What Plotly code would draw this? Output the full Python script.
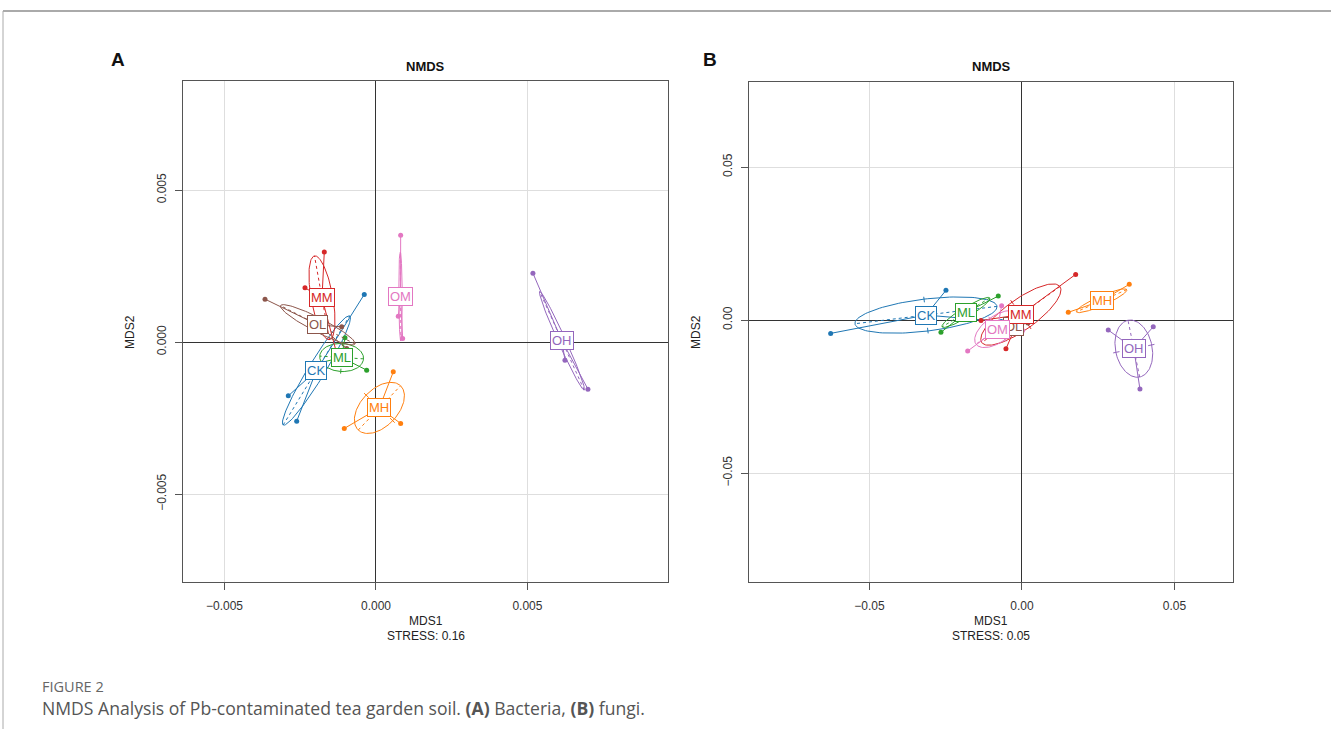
import numpy as np
import plotly.graph_objects as go

W, H = 1331, 729

group_order = ["CK", "MH", "ML", "MM", "OH", "OL", "OM"]
group_colors = ["#1f77b4", "#ff7f0e", "#2ca02c", "#d62728", "#9467bd", "#8c564b", "#e377c2"]

# Panel A: bacteria NMDS scores (3 samples per group)
bact_group = ["CK", "CK", "CK", "MH", "MH", "MH", "ML", "ML", "ML", "MM", "MM", "MM",
              "OH", "OH", "OH", "OL", "OL", "OL", "OM", "OM", "OM"]
bact_mds1 = [-0.000386, -0.002894, -0.002617,
             0.000571, -0.001046, 0.000815,
             -0.001023, -0.000307, -0.002069,
             -0.001706, -0.002343, -0.001297,
             0.005181, 0.006238, 0.006997,
             -0.003663, -0.001132, -0.000967,
             0.000815, 0.000736, 0.000881]
bact_mds2 = [0.001569, -0.001766, -0.002599,
             -0.000977, -0.002839, -0.002674,
             0.000141, -0.000921, -0.000734,
             0.002961, 0.001786, -0.000372,
             0.002270, -0.000592, -0.001546,
             0.001414, 0.000503, -0.000207,
             0.003520, 0.000855, 0.000122]
bact_stress = 0.16

# Panel B: fungi NMDS scores
fungi_group = bact_group
fungi_mds1 = [-0.06272, -0.02492, -0.00679,
              0.03518, 0.01518, 0.02800,
              -0.00777, -0.02656, -0.02075,
              0.01761, -0.00525, -0.01344,
              0.02830, 0.04305, 0.03869,
              0.00197, -0.00623, -0.00393,
              -0.01780, -0.00666, 0.00020]
fungi_mds2 = [-0.00435, 0.00971, -0.00046,
              0.01167, 0.00252, 0.00477,
              0.00784, -0.00402, 0.00369,
              0.01493, -0.00938, -0.00016,
              -0.00327, -0.00219, -0.02255,
              -0.00098, -0.00359, -0.00131,
              -0.01013, 0.00467, -0.00337]
fungi_stress = 0.05

bact_ticks = [-0.005, 0.0, 0.005]
bact_ticktext = ["\u22120.005", "0.000", "0.005"]
fungi_ticks = [-0.05, 0.0, 0.05]
fungi_ticktext = ["\u22120.05", "0.00", "0.05"]

label_order = ["CK", "MH", "ML", "OL", "MM", "OH", "OM"]

fig = go.Figure()


def px_x(p):
    return p / W


def px_y(p):
    return 1 - p / H


def ellipse_parts(x, y):
    X = np.column_stack([x, y])
    c = X.mean(axis=0)
    cov = np.cov(X.T, bias=True)
    vals, vecs = np.linalg.eigh(cov)
    vals = np.clip(vals, 0, None)
    r = np.sqrt(vals)
    t = np.linspace(0, 2 * np.pi, 121)
    pts = c[:, None] + vecs @ (r[:, None] * np.vstack([np.cos(t), np.sin(t)]))
    major = vecs[:, 1] * r[1]
    minor = vecs[:, 0] * r[0]
    return c, pts, major, minor


def add_panel(groups, mx, my, xa, ya):
    groups = np.array(groups)
    mx = np.array(mx)
    my = np.array(my)
    cents = {}
    for g, col in zip(group_order, group_colors):
        m = groups == g
        x, y = mx[m], my[m]
        c, pts, major, minor = ellipse_parts(x, y)
        cents[g] = c
        sx, sy = [], []
        for xi, yi in zip(x, y):
            sx += [c[0], xi, None]
            sy += [c[1], yi, None]
        fig.add_trace(go.Scatter(x=sx, y=sy, mode="lines", line=dict(color=col, width=1),
                                 xaxis=xa, yaxis=ya, hoverinfo="skip", showlegend=False))
        fig.add_trace(go.Scatter(x=pts[0], y=pts[1], mode="lines", line=dict(color=col, width=1),
                                 xaxis=xa, yaxis=ya, hoverinfo="skip", showlegend=False))
        fig.add_trace(go.Scatter(x=[c[0] - major[0], c[0] + major[0]],
                                 y=[c[1] - major[1], c[1] + major[1]],
                                 mode="lines", line=dict(color=col, width=1, dash="3px,3px"),
                                 xaxis=xa, yaxis=ya, hoverinfo="skip", showlegend=False))
        tx, ty = [], []
        for s in (-1, 1):
            tx += [c[0] + s * 0.8 * minor[0], c[0] + s * 1.15 * minor[0], None]
            ty += [c[1] + s * 0.8 * minor[1], c[1] + s * 1.15 * minor[1], None]
        fig.add_trace(go.Scatter(x=tx, y=ty, mode="lines", line=dict(color=col, width=1),
                                 xaxis=xa, yaxis=ya, hoverinfo="skip", showlegend=False))
        fig.add_trace(go.Scatter(x=x, y=y, mode="markers", marker=dict(color=col, size=5),
                                 xaxis=xa, yaxis=ya, hoverinfo="skip", showlegend=False))
    for g in label_order:
        col = group_colors[group_order.index(g)]
        c = cents[g]
        fig.add_annotation(x=c[0], y=c[1], xref=xa, yref=ya, text=g, showarrow=False,
                           xanchor="center", yanchor="middle",
                           font=dict(family="Liberation Sans, Arial", size=13, color=col),
                           bgcolor="white", bordercolor=col, borderwidth=1, borderpad=1)


add_panel(bact_group, bact_mds1, bact_mds2, "x", "y")
add_panel(fungi_group, fungi_mds1, fungi_mds2, "x2", "y2")

axis_common = dict(showline=True, mirror=True, linecolor="#555555", linewidth=1,
                   showgrid=True, gridcolor="#dedede", gridwidth=1,
                   zeroline=True, zerolinecolor="#333333", zerolinewidth=1,
                   ticks="outside", ticklen=7, tickcolor="#555555", tickwidth=1,
                   tickfont=dict(family="Liberation Sans, Arial", size=12, color="#333333"),
                   showticklabels=True)

fig.update_layout(
    width=W, height=H, margin=dict(l=0, r=0, t=0, b=0),
    paper_bgcolor="white", plot_bgcolor="white", showlegend=False,
    xaxis=dict(domain=[px_x(183), px_x(668)], range=[-0.00637, 0.00964], anchor="y",
               tickvals=bact_ticks, ticktext=bact_ticktext, ticklabelstandoff=6, **axis_common),
    yaxis=dict(domain=[px_y(582), px_y(81)], range=[-0.00789, 0.00859], anchor="x",
               tickvals=bact_ticks, ticktext=bact_ticktext, tickangle=-90, ticklabelstandoff=4,
               **axis_common),
    xaxis2=dict(domain=[px_x(749), px_x(1233)], range=[-0.0895, 0.0692], anchor="y2",
                tickvals=fungi_ticks, ticktext=fungi_ticktext, ticklabelstandoff=6, **axis_common),
    yaxis2=dict(domain=[px_y(582), px_y(82)], range=[-0.0856, 0.0778], anchor="x2",
                tickvals=fungi_ticks, ticktext=fungi_ticktext, tickangle=-90, ticklabelstandoff=4,
                **axis_common),
)

txt_font = dict(family="Liberation Sans, Arial", size=12, color="#222222")


def paper_text(xp, yp, text, font, xanchor="center", angle=0):
    fig.add_annotation(x=px_x(xp), y=px_y(yp), xref="paper", yref="paper", text=text,
                       showarrow=False, xanchor=xanchor, yanchor="middle", textangle=angle,
                       font=font)


for cx, stress in ((425.5, bact_stress), (991, fungi_stress)):
    paper_text(cx, 66, "<b>NMDS</b>", dict(family="Liberation Sans, Arial", size=13, color="#111"))
    paper_text(cx, 621, "MDS1", txt_font)
    paper_text(cx, 636, "STRESS: %.2f" % stress, txt_font)

for xx in (130, 696):
    paper_text(xx, 332, "MDS2", txt_font, angle=-90)

paper_text(118, 59, "<b>A</b>", dict(family="Liberation Sans, Arial", size=19, color="#111"))
paper_text(710, 60, "<b>B</b>", dict(family="Liberation Sans, Arial", size=19, color="#111"))

paper_text(40, 686, "FIGURE 2", dict(family="Open Sans", size=14.5, color="#666666"), xanchor="left")
paper_text(40, 708,
           "NMDS Analysis of Pb-contaminated tea garden soil. <b>(A)</b> Bacteria, <b>(B)</b> fungi.",
           dict(family="Open Sans", size=17.6, color="#555555"), xanchor="left")

fig.add_shape(type="line", xref="paper", yref="paper", x0=px_x(3), x1=1, y0=px_y(11), y1=px_y(11),
              line=dict(color="#aaaaaa", width=2))
fig.add_shape(type="line", xref="paper", yref="paper", x0=px_x(3), x1=px_x(3), y0=px_y(11), y1=0,
              line=dict(color="#aaaaaa", width=1))

fig.write_html("out.html")
